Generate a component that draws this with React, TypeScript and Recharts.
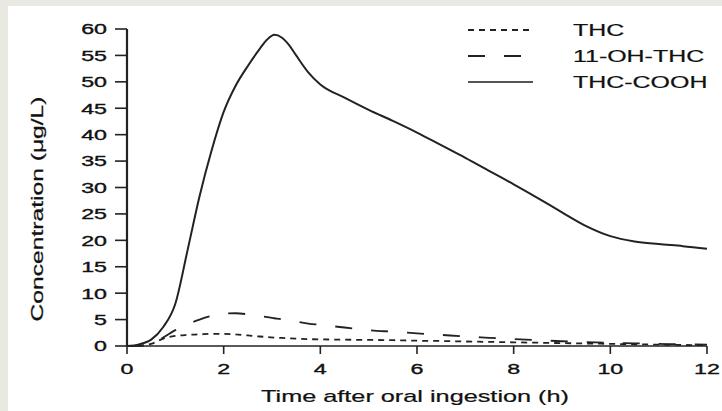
import React from 'react';
import { LineChart, Line, XAxis, YAxis, Legend } from 'recharts';

const times = [0, 0.25, 0.5, 0.75, 1, 1.25, 1.5, 1.75, 2, 2.25, 2.5, 2.75, 2.9, 3.05, 3.2, 3.35, 3.5, 3.75, 4, 4.5, 5, 5.5, 6, 6.5, 7, 7.5, 8, 8.5, 9, 9.5, 10, 10.5, 11, 11.5, 12];
const thc = [0, 0.05, 0.4, 1.4, 1.9, 2.1, 2.2, 2.3, 2.3, 2.2, 2.0, 1.8, 1.7, 1.6, 1.52, 1.46, 1.4, 1.3, 1.25, 1.2, 1.15, 1.1, 1.0, 0.95, 0.85, 0.78, 0.7, 0.62, 0.55, 0.48, 0.4, 0.33, 0.26, 0.2, 0.15];
const ohThc = [0, 0.05, 0.4, 1.6, 3.0, 4.1, 5.0, 5.7, 6.1, 6.2, 6.0, 5.7, 5.45, 5.25, 5.05, 4.8, 4.6, 4.25, 4.0, 3.5, 3.0, 2.7, 2.4, 2.1, 1.8, 1.55, 1.3, 1.1, 0.9, 0.75, 0.6, 0.5, 0.4, 0.32, 0.25];
const thcCooh = [0, 0.3, 1.2, 3.6, 8.0, 18.0, 28.3, 37.0, 44.3, 49.3, 53.0, 56.3, 58.0, 58.9, 58.4, 57.0, 55.0, 51.8, 49.5, 47.0, 44.7, 42.6, 40.4, 38.0, 35.6, 33.1, 30.6, 28.0, 25.3, 22.7, 20.8, 19.8, 19.3, 18.9, 18.4];

const xTicks = [0, 2, 4, 6, 8, 10, 12];
const yTicks = [0, 5, 10, 15, 20, 25, 30, 35, 40, 45, 50, 55, 60];
const seriesNames = ['THC', '11-OH-THC', 'THC-COOH'];
const seriesDash = ['6 5', '17 19', undefined];
const xTitle = 'Time after oral ingestion (h)';
const yTitle = 'Concentration (\u03bcg/L)';

const data = times.map((t, i) => ({
  t,
  [seriesNames[0]]: thc[i],
  [seriesNames[1]]: ohThc[i],
  [seriesNames[2]]: thcCooh[i],
}));

const FONT = '"Liberation Sans", Arial, Helvetica, sans-serif';
const INK = '#111';
const LINE = '#222';
const SX = 1.55;

const XTick = (props: any) => {
  const { x, y, payload } = props;
  return (
    <g transform={`translate(${x},${y + 18}) scale(${SX},1)`}>
      <text x={0} y={0} textAnchor="middle" fontFamily={FONT} fontSize={15} fill={INK} stroke={INK} strokeWidth={0.35}>
        {payload.value}
      </text>
    </g>
  );
};

const YTick = (props: any) => {
  const { x, y, payload } = props;
  return (
    <g transform={`translate(${x - 6},${y + 5.4}) scale(${SX},1)`}>
      <text x={0} y={0} textAnchor="end" fontFamily={FONT} fontSize={15} fill={INK} stroke={INK} strokeWidth={0.35}>
        {payload.value}
      </text>
    </g>
  );
};

const XTitle = (props: any) => {
  const vb = props.viewBox || { x: 127, y: 346, width: 580 };
  const cx = vb.x + vb.width / 2 - 2;
  return (
    <g transform={`translate(${cx},402) scale(1.58,1)`}>
      <text x={0} y={0} textAnchor="middle" fontFamily={FONT} fontSize={16} fill={INK} stroke={INK} strokeWidth={0.2}>
        {xTitle}
      </text>
    </g>
  );
};

const YTitle = () => (
  <g transform="translate(43,209) rotate(-90)">
    <text x={0} y={0} textAnchor="middle" fontFamily={FONT} fontSize={16.5} fill={INK} stroke={INK} strokeWidth={0.25} textLength={225} lengthAdjust="spacingAndGlyphs">
      {yTitle}
    </text>
  </g>
);

const LegendBox = () => (
  <svg width={262} height={90} style={{ display: 'block' }}>
    {seriesNames.map((name, i) => {
      const cy = 15 + i * 26;
      return (
        <g key={name}>
          <line x1={8} x2={73} y1={cy} y2={cy} stroke={i === 2 ? '#555' : LINE} strokeWidth={2} strokeDasharray={seriesDash[i]} />
          <g transform={`translate(113,${cy + 5.7}) scale(1.56,1)`}>
            <text x={0} y={0} fontFamily={FONT} fontSize={16} fill={INK} stroke={INK} strokeWidth={0.2}>{name}</text>
          </g>
        </g>
      );
    })}
  </svg>
);

export default function App() {
  return (
    <div style={{ position: 'fixed', left: 0, top: 0, width: 722, height: 411, background: '#e9e9e1', overflow: 'hidden' }}>
      <div style={{ position: 'absolute', left: 8, top: 6, right: 0, bottom: 0, background: '#ffffff' }} />
      <div style={{ position: 'absolute', left: 0, top: 0 }}>
        <LineChart width={722} height={411} data={data} margin={{ top: 29, right: 15, bottom: 25, left: 67 }}>
          <XAxis
            dataKey="t"
            type="number"
            domain={[0, 12]}
            ticks={xTicks}
            height={40}
            tickSize={8}
            tickMargin={2}
            axisLine={{ stroke: LINE, strokeWidth: 1.6 }}
            tickLine={{ stroke: LINE, strokeWidth: 1.6 }}
            tick={<XTick />}
            interval={0}
            label={{ content: <XTitle /> }}
          />
          <YAxis
            type="number"
            domain={[0, 60]}
            ticks={yTicks}
            width={60}
            tickSize={12}
            tickMargin={2}
            axisLine={{ stroke: LINE, strokeWidth: 2.2 }}
            tickLine={{ stroke: LINE, strokeWidth: 1.6 }}
            tick={<YTick />}
            interval={0}
            label={{ content: <YTitle /> }}
          />
          <Legend
            layout="horizontal"
            verticalAlign="middle"
            align="center"
            content={<LegendBox />}
            wrapperStyle={{ left: 460, top: 15, width: 262, height: 90 }}
          />
          <Line dataKey={seriesNames[0]} type="monotone" stroke={LINE} strokeWidth={1.8} strokeDasharray={seriesDash[0]} dot={false} isAnimationActive={false} />
          <Line dataKey={seriesNames[1]} type="monotone" stroke={LINE} strokeWidth={1.8} strokeDasharray={seriesDash[1]} dot={false} isAnimationActive={false} />
          <Line dataKey={seriesNames[2]} type="monotone" stroke={LINE} strokeWidth={2} dot={false} isAnimationActive={false} />
        </LineChart>
      </div>
    </div>
  );
}
